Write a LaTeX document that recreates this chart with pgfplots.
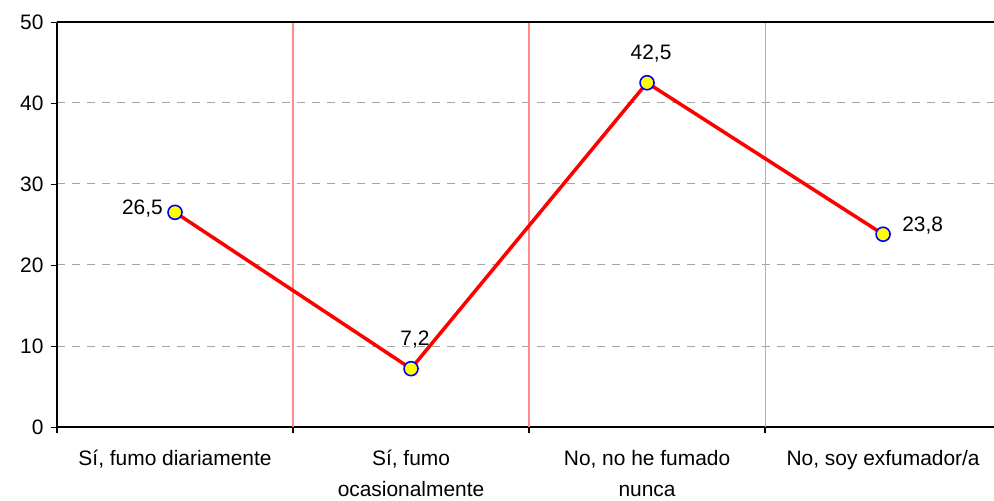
\documentclass[border=0pt]{standalone}
\usepackage{fontspec}
\setmainfont{Liberation Sans}
\usepackage{pgfplots}
\usepackage{pgfplotstable}
\pgfplotsset{compat=1.18}
\usetikzlibrary{calc}

\definecolor{linered}{RGB}{255,0,0}
\definecolor{mkyellow}{RGB}{255,255,0}
\definecolor{mkblue}{RGB}{0,0,255}
\definecolor{gridpink}{RGB}{255,140,140}
\definecolor{gridgray}{RGB}{165,165,165}

% categories sit at 0.5, 1.5, 2.5, 3.5
\pgfplotstableread{
x   y
0.5 26.5
1.5 7.2
2.5 42.5
3.5 23.8
}\datatable

\newcommand{\lblfont}{\fontsize{21}{31}\selectfont}

\begin{document}
\begin{tikzpicture}
\begin{axis}[
    name=ax, at={(0,0)}, anchor=south west,
    width=937bp, height=405bp, scale only axis,
    xmin=0, xmax=3.97, ymin=0, ymax=50,
    axis lines=left,
    axis line style={-, line width=1.5bp, black},
    tick align=outside,
    major tick length=6bp,
    % category boundaries: ticks only, the pink lines are drawn below
    xtick={0,1,2,3},
    xticklabels={},
    x tick style={black, line width=1.2bp},
    % category names at the centres
    extra x ticks={0.5,1.5,2.5,3.5},
    extra x tick labels={{Sí, fumo diariamente},{Sí, fumo\\ocasionalmente},{No, no he fumado\\nunca},{No, soy exfumador/a}},
    extra x tick style={major tick length=0pt,
        tick label style={align=center, font=\lblfont, yshift=-20bp}},
    ytick={0,10,20,30,40,50},
    ymajorgrids,
    y grid style={draw=gridgray, dash pattern=on 8bp off 7bp, line width=1bp},
    y tick style={black, line width=0.8bp},
    yticklabel style={font=\lblfont, xshift=-4bp},
    /pgf/number format/assume math mode=true,
    clip=false,
    unbounded coords=jump,
    lbl/.style={draw=none, mark=none, forget plot,
        point meta=explicit symbolic, nodes near coords,
        every node near coord/.append style={font=\lblfont, text=black, inner sep=0pt}},
]
% pink category separators and the black top line
\addplot[gridpink, line width=1.1bp, mark=none, forget plot]
    coordinates {(1,0) (1,50) (1,nan) (2,0) (2,50) (2,nan) (3,0) (3,50)};
\addplot[black, line width=1.5bp, mark=none, forget plot]
    coordinates {(0,50) (3.97,50)};
\addplot[
    linered, line width=3.5bp,
    mark=*, mark size=7bp,
    mark options={fill=mkyellow, draw=mkblue, line width=1.6bp},
] table[x=x, y=y] {\datatable};
% value labels
\addplot[lbl, every node near coord/.append style={anchor=east, xshift=-12bp, yshift=4bp}]
    coordinates {(0.5,26.5) [26,5]};
\addplot[lbl, every node near coord/.append style={anchor=base, xshift=4bp, yshift=23bp}]
    coordinates {(1.5,7.2) [7,2] (2.5,42.5) [42,5]};
\addplot[lbl, every node near coord/.append style={anchor=west, xshift=19bp, yshift=9bp}]
    coordinates {(3.5,23.8) [23,8]};
\end{axis}
\pgfresetboundingbox
\path[use as bounding box] ($(ax.south west)+(-57bp,-74bp)$) rectangle ($(ax.north east)+(0bp,22bp)$);
\end{tikzpicture}
\end{document}
